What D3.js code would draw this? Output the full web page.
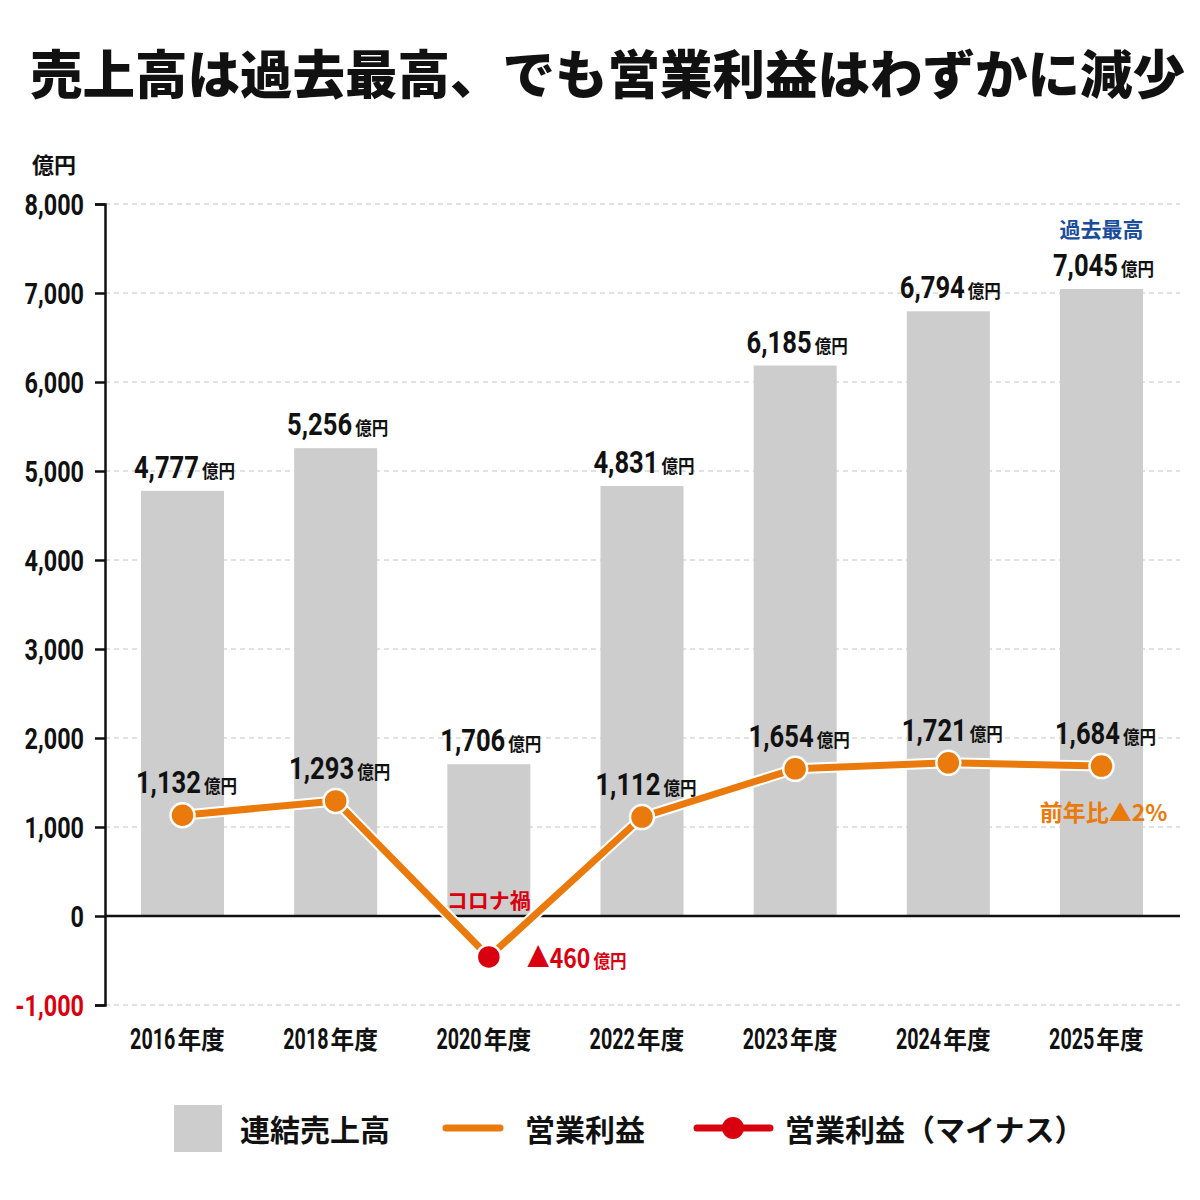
<!DOCTYPE html>
<html><head><meta charset="utf-8">
<script src="https://cdn.jsdelivr.net/npm/d3@7"></script>
<style>body{margin:0;background:#fff}</style>
</head><body>
<svg id="c" width="1200" height="1200"></svg>
<script>
// ---- data ----
const categories = ["2016年度","2018年度","2020年度","2022年度","2023年度","2024年度","2025年度"];
const sales = [4777, 5256, 1706, 4831, 6185, 6794, 7045];
const profit = [1132, 1293, -460, 1112, 1654, 1721, 1684];
const yTicks = [-1000, 0, 1000, 2000, 3000, 4000, 5000, 6000, 7000, 8000];
const titleText = "売上高は過去最高、でも営業利益はわずかに減少";
const unitText = "億円";
const legendLabels = ["連結売上高", "営業利益", "営業利益（マイナス）"];

// ---- styles ----
const NUM = "Roboto,'Liberation Sans',sans-serif";
const CJK = "'Noto Sans CJK JP','Noto Sans CJK SC',sans-serif";
const BAR = "#cdcdcd", ORANGE = "#ea7a0c", RED = "#d9000f", BLUE = "#1a4c9c";

const svg = d3.select("#c");
svg.append("rect").attr("width",1200).attr("height",1200).attr("fill","#fff");

const x = d3.scaleBand().domain(categories).range([141, 1143]).paddingInner(0.458).paddingOuter(0);
const y = d3.scaleLinear().domain([-1000, 8000]).range([1005, 204]);
const cx = c => x(c) + x.bandwidth() / 2;

// multi-part label helper: each part is its own text, horizontally scaled
function label(g, xp, yp, parts, anchor) {
  const grp = g.append("g");
  const items = parts.map(p => {
    const t = grp.append("text").attr("font-family", p.font).attr("font-weight", p.weight || 700)
      .attr("font-size", p.size).attr("fill", p.color || "#111").text(p.text);
    const w = t.node().getComputedTextLength() * (p.scale || 1);
    return {t, w, p};
  });
  const total = items.reduce((s, it, i) => s + it.w + (i ? (it.p.dx || 0) : 0), 0);
  let start = anchor === "start" ? xp : anchor === "end" ? xp - total : xp - total / 2;
  items.forEach((it, i) => {
    if (i) start += (it.p.dx || 0);
    it.t.attr("transform", `translate(${start},${yp}) scale(${it.p.scale || 1},1)`);
    start += it.w;
  });
  return grp;
}
const numPart = (s, color) => ({text: s, font: NUM, size: 32, scale: 0.8, color});
const unitPart = color => ({text: unitText, font: CJK, size: 18, scale: 0.92, dx: 3, color});
const fmt = v => v < 0 ? "▲" + d3.format(",")(-v) : d3.format(",")(v);

// title
svg.append("text").attr("x", 30).attr("y", 94)
  .attr("font-family", CJK).attr("font-weight", 900).attr("font-size", 52.5)
  .attr("fill", "#111").text(titleText);

// unit label
svg.append("text").attr("x", 32).attr("y", 173)
  .attr("font-family", CJK).attr("font-weight", 700).attr("font-size", 22)
  .attr("fill", "#111").text(unitText);

// gridlines
svg.append("g").selectAll("line").data(yTicks.filter(t => t !== 0)).join("line")
  .attr("x1", 105).attr("x2", 1180).attr("y1", d => y(d)).attr("y2", d => y(d))
  .attr("stroke", "#c4c4c4").attr("stroke-width", 1).attr("stroke-dasharray", "5,4");

// bars
svg.append("g").selectAll("rect").data(categories).join("rect")
  .attr("x", d => x(d)).attr("width", x.bandwidth())
  .attr("y", (d, i) => y(sales[i])).attr("height", (d, i) => y(0) - y(sales[i]))
  .attr("fill", BAR);

// zero line
svg.append("line").attr("x1", 105).attr("x2", 1180).attr("y1", y(0)).attr("y2", y(0))
  .attr("stroke", "#111").attr("stroke-width", 2.5);

// y axis
const yAxis = d3.axisLeft(y).tickValues(yTicks).tickSize(10).tickPadding(10)
  .tickFormat(d => d < 0 ? "-" + d3.format(",")(-d) : d3.format(",")(d));
const ya = svg.append("g").attr("transform", "translate(105,0)").call(yAxis);
ya.select(".domain").attr("stroke", "#111").attr("stroke-width", 2.5);
ya.selectAll(".tick line").attr("stroke", "#111").attr("stroke-width", 2.5);
ya.selectAll(".tick text").attr("font-family", NUM).attr("font-weight", 700)
  .attr("font-size", 30).attr("fill", d => d < 0 ? RED : "#111")
  .attr("x", 0).attr("dy", "0.36em").attr("transform", "translate(-21,0) scale(0.78,1)");

// x axis labels
const gx = svg.append("g");
categories.forEach(c => {
  label(gx, cx(c) - 5, 1049, [
    {text: c.slice(0, 4), font: NUM, size: 29, scale: 0.68},
    {text: c.slice(4), font: CJK, size: 25, scale: 0.95, dx: 2}
  ]);
});

// bar value labels
const gl = svg.append("g");
categories.forEach((c, i) => label(gl, cx(c) + 2, y(sales[i]) - 13, [numPart(fmt(sales[i])), unitPart()]));

// annotations
svg.append("text").attr("x", cx(categories[6])).attr("y", 237).attr("text-anchor", "middle")
  .attr("font-family", CJK).attr("font-weight", 700).attr("font-size", 21).attr("fill", BLUE)
  .text("過去最高");
svg.append("text").attr("x", cx(categories[2])).attr("y", 908).attr("text-anchor", "middle")
  .attr("font-family", CJK).attr("font-weight", 700).attr("font-size", 21).attr("fill", RED)
  .text("コロナ禍");

// profit line
const line = d3.line().x((d, i) => cx(categories[i])).y(d => y(d));
svg.append("path").datum(profit).attr("d", line).attr("fill", "none")
  .attr("stroke", "#fff").attr("stroke-width", 11).attr("stroke-linejoin", "round");
svg.append("path").datum(profit).attr("d", line).attr("fill", "none")
  .attr("stroke", ORANGE).attr("stroke-width", 7).attr("stroke-linejoin", "round");

svg.append("g").selectAll("circle").data(profit).join("circle")
  .attr("cx", (d, i) => cx(categories[i])).attr("cy", d => y(d))
  .attr("r", 12).attr("fill", d => d < 0 ? RED : ORANGE)
  .attr("stroke", "#fff").attr("stroke-width", 2.5);

// profit labels
const pl = svg.append("g");
profit.forEach((v, i) => {
  const c = categories[i];
  if (v < 0) {
    label(pl, cx(c) + 38, y(v) + 11, [
      {text: "▲" + d3.format(",")(-v), font: CJK, size: 27, scale: 0.85, color: RED},
      unitPart(RED)
    ], "start");
  } else {
    label(pl, cx(c) + 4, y(v) - 22, [numPart(fmt(v)), unitPart()]);
  }
});
svg.append("text").attr("x", cx(categories[6]) + 2).attr("y", 821).attr("text-anchor", "middle")
  .attr("font-family", CJK).attr("font-weight", 700).attr("font-size", 23).attr("fill", ORANGE)
  .text("前年比▲2%");

// legend
const lg = svg.append("g");
lg.append("rect").attr("x", 174).attr("y", 1105).attr("width", 48).attr("height", 47).attr("fill", BAR);
lg.append("text").attr("x", 240).attr("y", 1141).attr("font-family", CJK).attr("font-weight", 700)
  .attr("font-size", 30).attr("fill", "#111").text(legendLabels[0]);
lg.append("line").attr("x1", 446).attr("x2", 500).attr("y1", 1128).attr("y2", 1128)
  .attr("stroke", ORANGE).attr("stroke-width", 7).attr("stroke-linecap", "round");
lg.append("text").attr("x", 525).attr("y", 1141).attr("font-family", CJK).attr("font-weight", 700)
  .attr("font-size", 30).attr("fill", "#111").text(legendLabels[1]);
lg.append("line").attr("x1", 697).attr("x2", 770).attr("y1", 1128).attr("y2", 1128)
  .attr("stroke", RED).attr("stroke-width", 7).attr("stroke-linecap", "round");
lg.append("circle").attr("cx", 733).attr("cy", 1128).attr("r", 11).attr("fill", RED);
lg.append("text").attr("x", 785).attr("y", 1141).attr("font-family", CJK).attr("font-weight", 700)
  .attr("font-size", 30).attr("fill", "#111").text(legendLabels[2]);
</script>
</body></html>
